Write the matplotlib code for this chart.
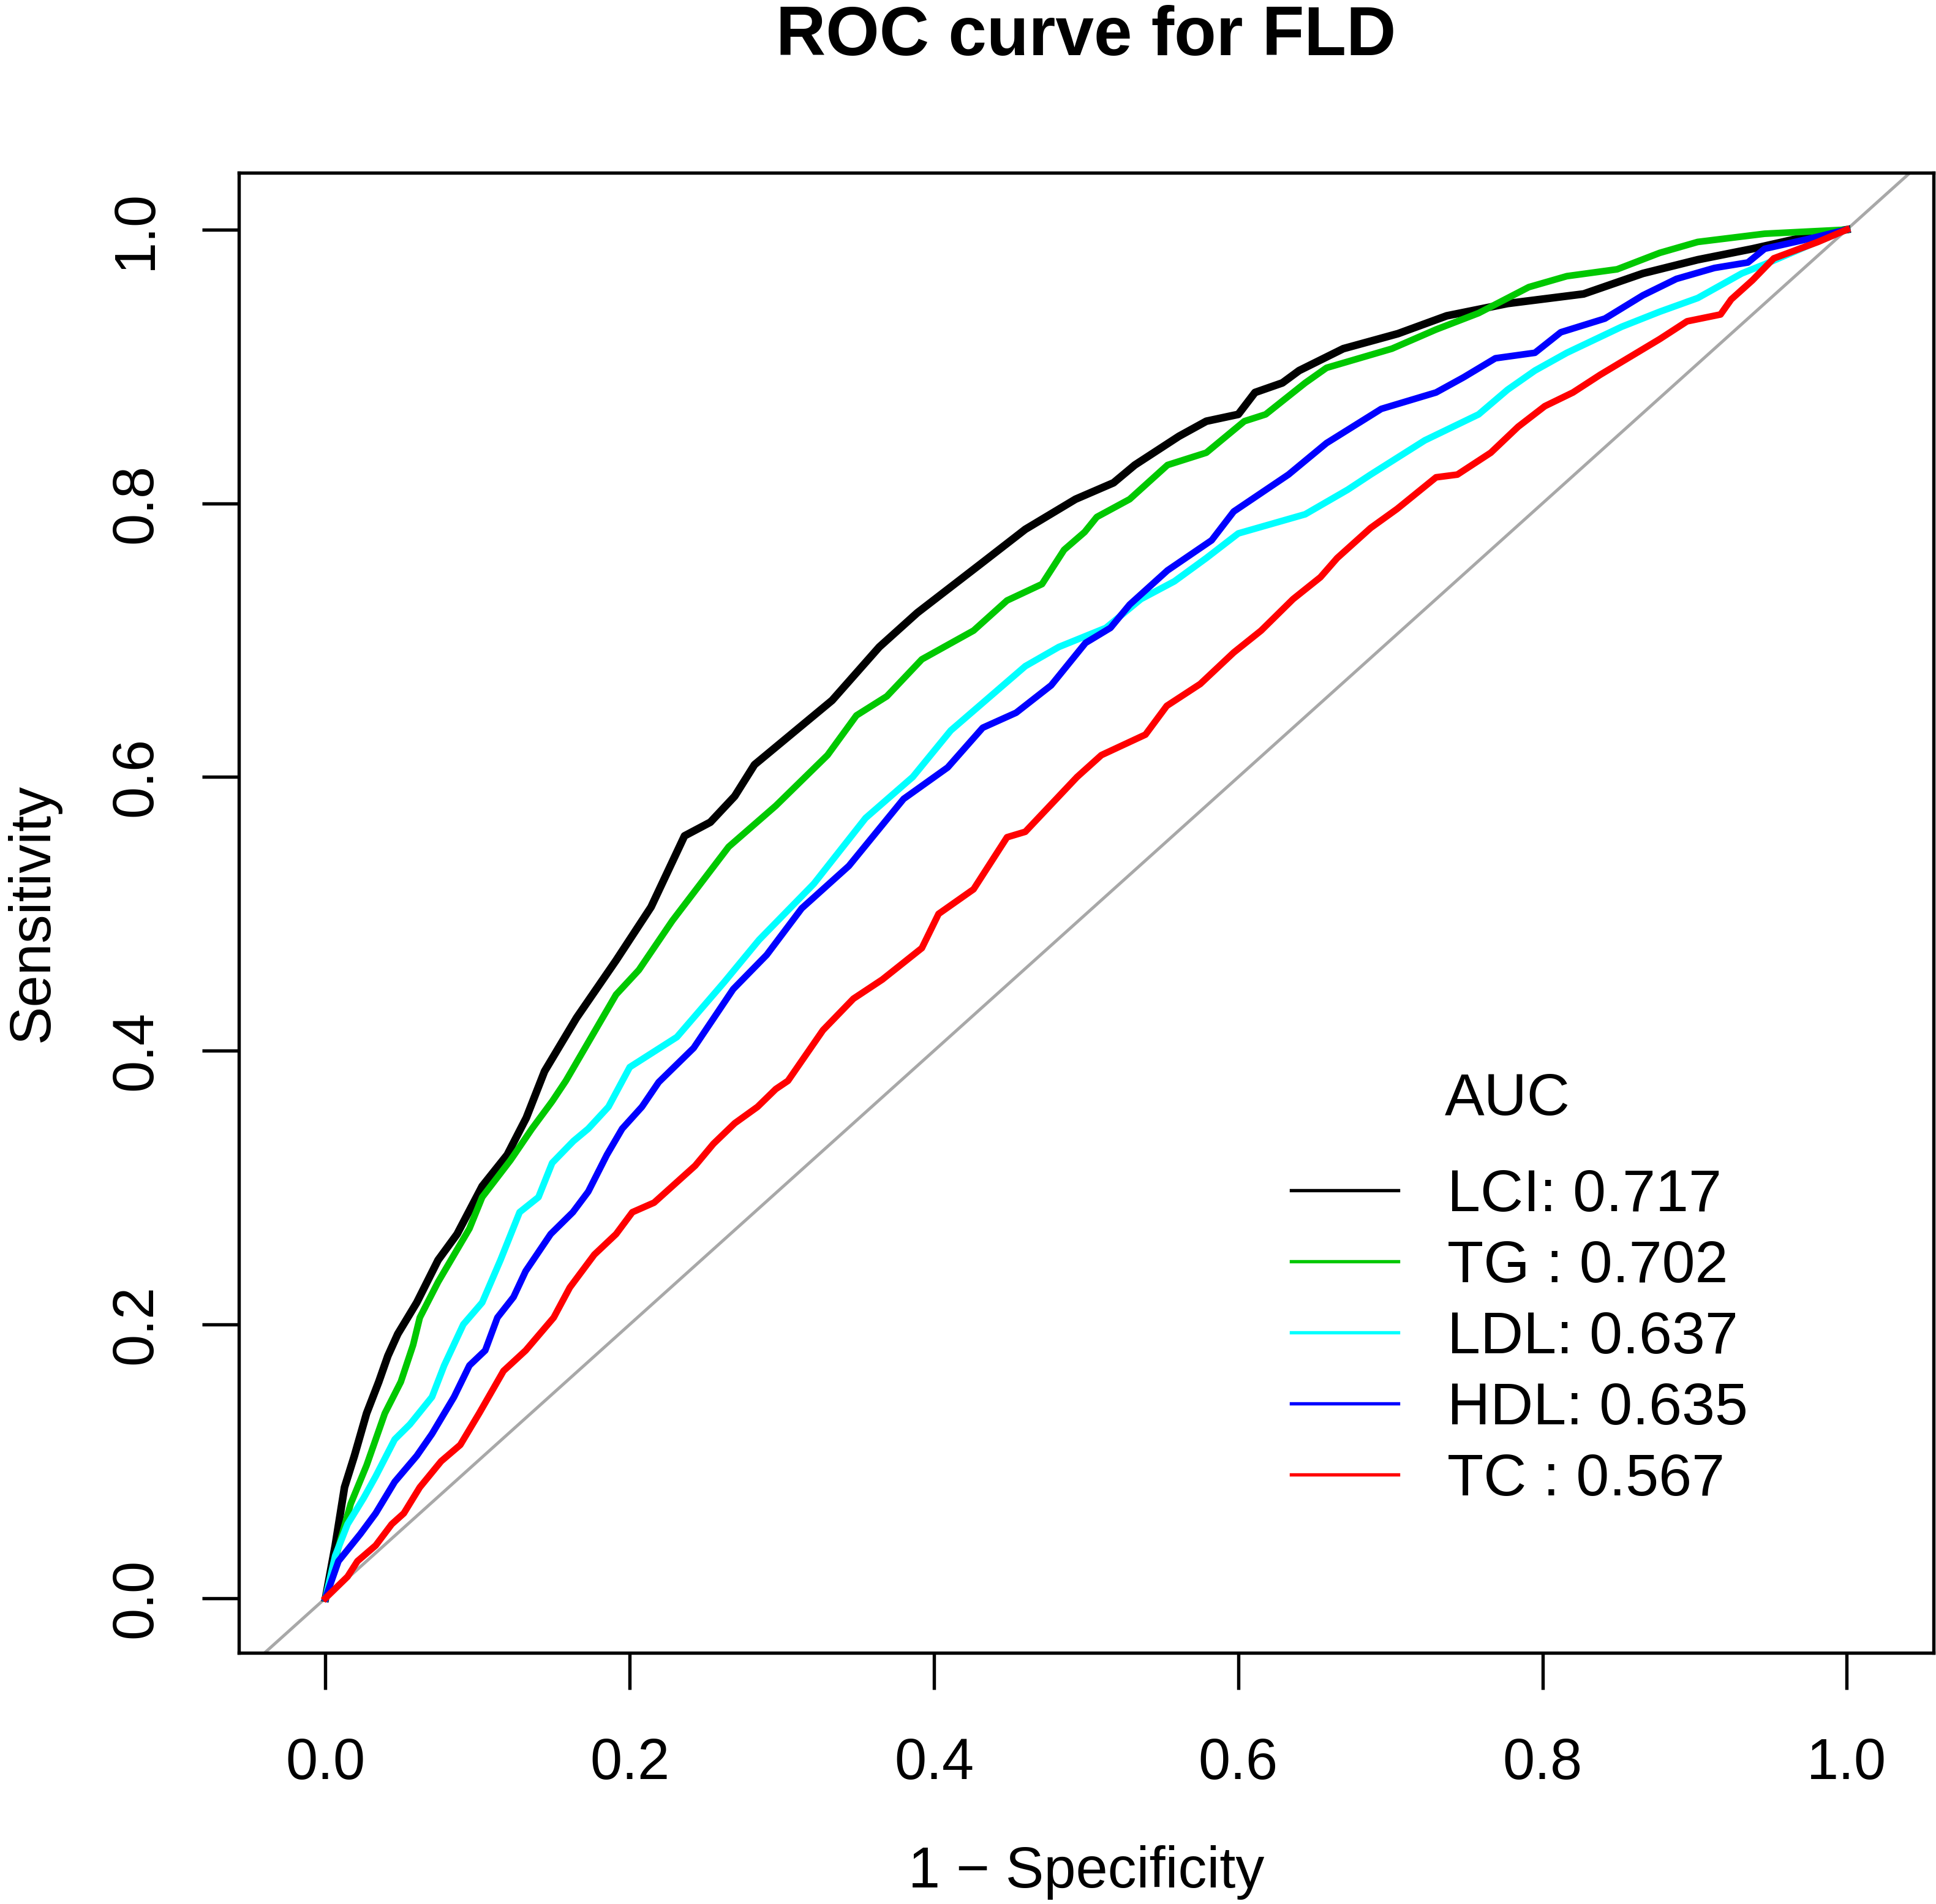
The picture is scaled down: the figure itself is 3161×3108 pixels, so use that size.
import matplotlib
matplotlib.use("Agg")
import matplotlib.pyplot as plt
from matplotlib.lines import Line2D

plt.rcParams['font.family'] = ['Liberation Sans', 'DejaVu Sans']

# ROC points (1 - specificity, sensitivity)
lci_fpr = [0, 0.0064, 0.0125, 0.019, 0.027, 0.035, 0.041, 0.0475, 0.060, 0.074, 0.0865, 0.103,
           0.1195, 0.132, 0.144, 0.165, 0.191, 0.214, 0.236, 0.253, 0.269, 0.282, 0.333, 0.364,
           0.389, 0.431, 0.460, 0.493, 0.518, 0.532, 0.561, 0.579, 0.600, 0.611, 0.629, 0.640,
           0.669, 0.705, 0.737, 0.777, 0.827, 0.866, 0.902, 0.938, 0.974, 1.0]
lci_tpr = [0, 0.0385, 0.081, 0.104, 0.135, 0.158, 0.177, 0.193, 0.216, 0.247, 0.266, 0.301,
           0.324, 0.351, 0.385, 0.424, 0.466, 0.505, 0.557, 0.567, 0.586, 0.609, 0.656, 0.695,
           0.720, 0.756, 0.781, 0.803, 0.815, 0.828, 0.849, 0.860, 0.865, 0.881, 0.888, 0.897,
           0.913, 0.924, 0.937, 0.946, 0.953, 0.968, 0.978, 0.986, 0.995, 1.0]

tg_fpr = [0, 0.008, 0.0166, 0.027, 0.039, 0.0495, 0.0576, 0.062, 0.074, 0.0946, 0.103, 0.1216,
          0.1357, 0.149, 0.158, 0.191, 0.206, 0.228, 0.265, 0.296, 0.330, 0.349, 0.369, 0.392,
          0.426, 0.448, 0.471, 0.4855, 0.499, 0.507, 0.5286, 0.5535, 0.579, 0.604, 0.618, 0.644,
          0.658, 0.701, 0.730, 0.758, 0.791, 0.816, 0.849, 0.877, 0.902, 0.946, 1.0]
tg_tpr = [0, 0.035, 0.069, 0.097, 0.135, 0.158, 0.185, 0.205, 0.231, 0.270, 0.293, 0.320,
          0.343, 0.363, 0.378, 0.441, 0.459, 0.495, 0.549, 0.579, 0.616, 0.645, 0.659, 0.686,
          0.707, 0.729, 0.741, 0.766, 0.779, 0.790, 0.803, 0.828, 0.837, 0.860, 0.865, 0.888,
          0.899, 0.913, 0.927, 0.939, 0.958, 0.966, 0.971, 0.983, 0.991, 0.997, 1.0]

ldl_fpr = [0, 0.0064, 0.0145, 0.025, 0.033, 0.0455, 0.0555, 0.070, 0.078, 0.0906, 0.103, 0.115,
           0.1276, 0.140, 0.149, 0.163, 0.1727, 0.186, 0.200, 0.231, 0.262, 0.285, 0.321, 0.355,
           0.386, 0.411, 0.460, 0.482, 0.513, 0.536, 0.558, 0.579, 0.600, 0.644, 0.672, 0.687,
           0.7226, 0.758, 0.777, 0.795, 0.816, 0.852, 0.877, 0.902, 0.931, 0.949, 0.974, 1.0]
ldl_tpr = [0, 0.031, 0.054, 0.073, 0.089, 0.116, 0.127, 0.147, 0.170, 0.200, 0.216, 0.247,
           0.282, 0.293, 0.318, 0.334, 0.343, 0.359, 0.388, 0.410, 0.450, 0.481, 0.522, 0.570,
           0.600, 0.634, 0.681, 0.695, 0.709, 0.730, 0.743, 0.760, 0.778, 0.792, 0.810, 0.821,
           0.846, 0.865, 0.883, 0.897, 0.910, 0.929, 0.940, 0.950, 0.968, 0.976, 0.988, 1.0]

hdl_fpr = [0, 0.0085, 0.023, 0.033, 0.0455, 0.060, 0.070, 0.0845, 0.0946, 0.105, 0.113, 0.1236,
           0.1316, 0.148, 0.1626, 0.1727, 0.185, 0.195, 0.208, 0.219, 0.242, 0.268, 0.290, 0.313,
           0.344, 0.380, 0.409, 0.432, 0.454, 0.477, 0.4996, 0.516, 0.5286, 0.5535, 0.5825, 0.597,
           0.633, 0.658, 0.694, 0.730, 0.748, 0.769, 0.795, 0.812, 0.841, 0.866, 0.888, 0.913,
           0.935, 0.946, 0.974, 1.0]
hdl_tpr = [0, 0.027, 0.047, 0.062, 0.085, 0.104, 0.120, 0.147, 0.170, 0.181, 0.205, 0.220,
           0.239, 0.266, 0.282, 0.297, 0.324, 0.343, 0.359, 0.377, 0.402, 0.445, 0.470, 0.504,
           0.535, 0.584, 0.607, 0.636, 0.647, 0.667, 0.698, 0.709, 0.726, 0.751, 0.773, 0.794,
           0.821, 0.844, 0.869, 0.881, 0.892, 0.906, 0.910, 0.925, 0.935, 0.952, 0.964, 0.972,
           0.976, 0.986, 0.993, 1.0]

tc_fpr = [0, 0.0145, 0.021, 0.033, 0.0435, 0.0515, 0.062, 0.076, 0.0886, 0.101, 0.117, 0.1316,
          0.150, 0.1606, 0.1767, 0.191, 0.2017, 0.216, 0.228, 0.243, 0.255, 0.269, 0.284, 0.296,
          0.304, 0.327, 0.347, 0.366, 0.392, 0.403, 0.426, 0.448, 0.460, 0.494, 0.510, 0.539,
          0.553, 0.575, 0.597, 0.615, 0.636, 0.654, 0.665, 0.687, 0.7045, 0.730, 0.744, 0.766,
          0.784, 0.8015, 0.820, 0.838, 0.859, 0.877, 0.895, 0.917, 0.924, 0.938, 0.952, 0.981, 1.0]
tc_tpr = [0, 0.0157, 0.027, 0.0385, 0.054, 0.062, 0.081, 0.100, 0.112, 0.135, 0.166, 0.181,
          0.205, 0.227, 0.251, 0.266, 0.282, 0.289, 0.301, 0.316, 0.332, 0.347, 0.359, 0.372,
          0.378, 0.415, 0.438, 0.452, 0.475, 0.500, 0.518, 0.556, 0.560, 0.600, 0.616, 0.631,
          0.652, 0.668, 0.691, 0.707, 0.730, 0.746, 0.760, 0.782, 0.796, 0.819, 0.821, 0.837,
          0.856, 0.871, 0.881, 0.894, 0.908, 0.920, 0.933, 0.938, 0.949, 0.963, 0.979, 0.991, 1.0]

names = ["LCI", "TG ", "LDL", "HDL", "TC "]
aucs = [0.717, 0.702, 0.637, 0.635, 0.567]
colors = ["black", "#00C800", "#00FFFF", "#0000FF", "#FF0000"]
ticks = [0.0, 0.2, 0.4, 0.6, 0.8, 1.0]

fig = plt.figure(figsize=(3162 / 300, 3108 / 300), dpi=300)
ax = fig.add_axes([0.1233, 0.1319, 0.8751, 0.7774])

# chance line
ax.axline((0, 0), (1, 1), color="#A8A8A8", lw=1.2, zorder=1)

curves = [(lci_fpr, lci_tpr), (tg_fpr, tg_tpr), (ldl_fpr, ldl_tpr),
          (hdl_fpr, hdl_tpr), (tc_fpr, tc_tpr)]
widths = [3.0, 2.6, 2.6, 2.6, 2.6]
draw_order = [0, 1, 4, 3, 2]
for i in draw_order:
    fpr, tpr = curves[i]
    ax.plot(fpr, tpr, color=colors[i], lw=widths[i], solid_joinstyle="round", zorder=2 + i)

ax.set_xlim(-0.057, 1.057)
ax.set_ylim(-0.04, 1.0416)
ax.set_xticks(ticks)
ax.set_yticks(ticks)
ax.set_xticklabels([f"{t:.1f}" for t in ticks])
ax.set_yticklabels([f"{t:.1f}" for t in ticks], rotation=90, va="center")
ax.tick_params(axis="both", direction="out", length=14.4, width=1.3, labelsize=22.5)
ax.tick_params(axis="x", pad=18.5)
ax.tick_params(axis="y", pad=15)
for sp in ax.spines.values():
    sp.set_linewidth(1.3)

ax.set_xlabel("1 \u2212 Specificity", fontsize=22.5, labelpad=21)
ax.set_ylabel("Sensitivity", fontsize=22.5, labelpad=19)
ax.set_title("ROC curve for FLD", fontsize=27, fontweight="bold", pad=46)

# legend
handles = [Line2D([], [], color=c, lw=1.3) for c in colors]
labels = [f"{n}: {a:.3f}" for n, a in zip(names, aucs)]
ax.text(0.7485, 0.3738, "AUC", transform=ax.transAxes, fontsize=23.3, ha="center", va="center")
ax.legend(handles, labels, loc="upper left", bbox_to_anchor=(0.6209, 0.3276), frameon=False,
          fontsize=23.3, handlelength=1.8, handletextpad=0.83, labelspacing=0.27,
          borderpad=0, borderaxespad=0)

fig.savefig("out.png", dpi=300)
